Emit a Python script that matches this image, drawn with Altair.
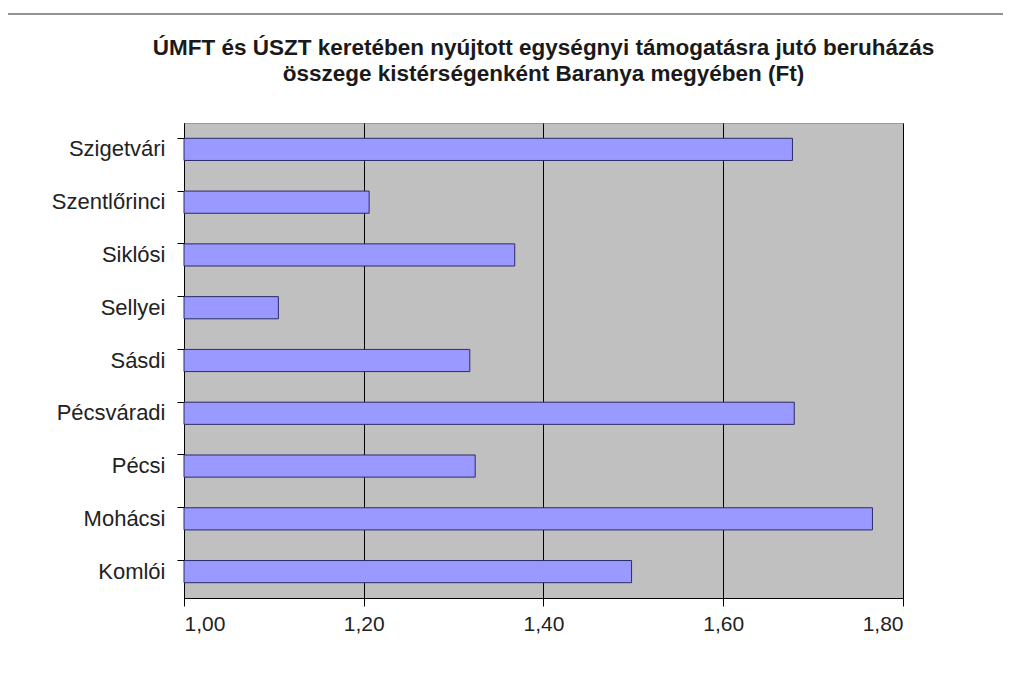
import altair as alt
import pandas as pd

categories = ["Szigetvári", "Szentlőrinci", "Siklósi", "Sellyei", "Sásdi",
              "Pécsváradi", "Pécsi", "Mohácsi", "Komlói"]
values = [1.677, 1.206, 1.368, 1.105, 1.318, 1.679, 1.324, 1.766, 1.498]
x_ticks = [1.0, 1.2, 1.4, 1.6, 1.8]
title_lines = ["ÚMFT és ÚSZT keretében nyújtott egységnyi támogatásra jutó beruházás",
               "összege kistérségenként Baranya megyében (Ft)"]

df = pd.DataFrame({"cat": categories, "val": values})
FONT = "Liberation Sans"

y_scale = alt.Scale(domain=categories, paddingInner=0.58, paddingOuter=0.29)
x_scale = alt.Scale(domain=[1.0, 1.8], nice=False, zero=False)

frame = alt.Chart(pd.DataFrame({"k": [0]})).mark_rect(
    fill=None, stroke="#6e6e6e", strokeWidth=1.5
).encode(x=alt.value(-177), x2=alt.value(846), y=alt.value(-109), y2=alt.value(577))

bars = alt.Chart(df).mark_bar(
    fill="#9999FF", stroke="#2b2b66", strokeWidth=1
).encode(
    x=alt.X("val:Q", scale=x_scale,
            axis=alt.Axis(values=x_ticks, title=None, grid=True, gridColor="#000000",
                          gridWidth=1, domainColor="#000000", tickColor="#000000",
                          tickSize=8, labelFont=FONT, labelFontSize=21, labelColor="#222222",
                          labelPadding=7,
                          labelExpr="replace(format(datum.value, '.2f'), '.', ',')")),
    x2=alt.datum(1.0),
    y=alt.Y("cat:N", scale=y_scale, sort=categories,
            axis=alt.Axis(title=None, ticks=False, domain=True, domainColor="#000000",
                          labelFont=FONT, labelFontSize=22, labelColor="#222222",
                          labelPadding=19, orient="left")),
)

ticks_layer = alt.Chart(df).mark_point(opacity=0).encode(
    y=alt.Y("cat:N", scale=y_scale, sort=categories,
            axis=alt.Axis(title=None, labels=False, ticks=True, domain=False,
                          tickColor="#000000", tickSize=7, bandPosition=0, orient="left")),
    x=alt.value(0),
)

chart = alt.layer(frame, bars, ticks_layer).resolve_axis(y="independent").properties(
    width=719, height=475,
    autosize=alt.AutoSizeParams(type="none"),
    padding={"left": 176, "top": 115, "right": 100, "bottom": 85},
    title=alt.TitleParams(title_lines, anchor="middle", font=FONT, fontSize=22.5,
                          fontWeight="bold", color="#1a1a1a", lineHeight=26,
                          baseline="top", offset=-72),
).configure_view(fill="#C0C0C0", stroke="#9a9a9a", strokeWidth=1)

chart.save("out.html", embed_options={"renderer": "svg", "actions": False})
